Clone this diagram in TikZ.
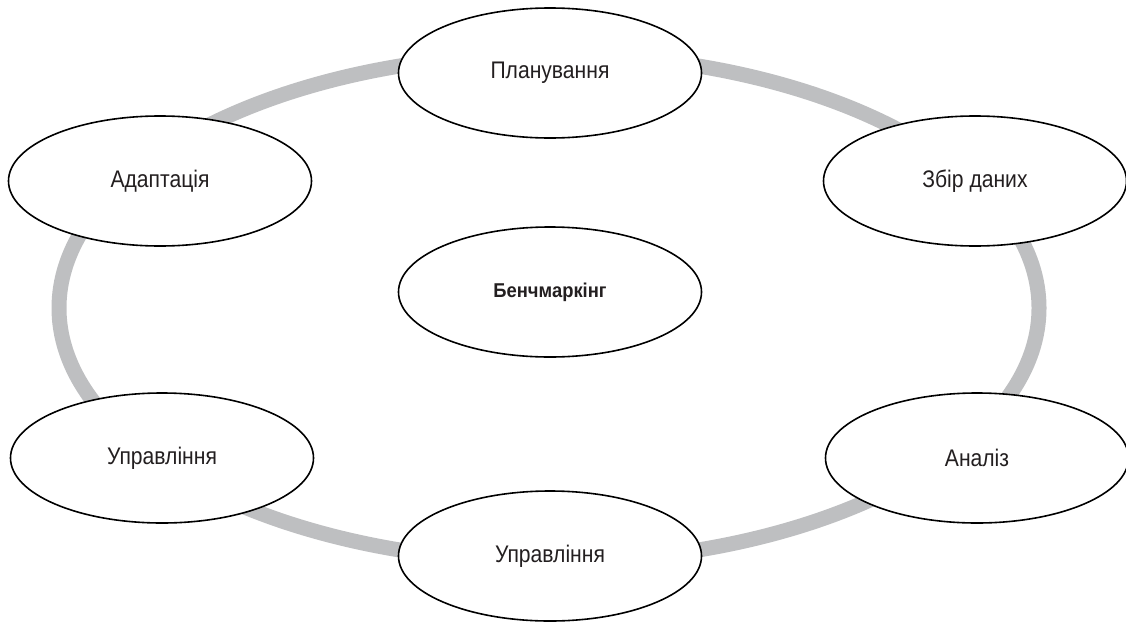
\documentclass[tikz,border=0pt]{standalone}
\usepackage{fontspec}
\setmainfont{Liberation Sans}
\newfontfamily\labelfont[FakeStretch=0.88]{Liberation Sans}
\newfontfamily\hubfont[FakeStretch=0.92]{Liberation Sans Bold}
\usetikzlibrary{shapes.geometric}
\definecolor{ringgray}{HTML}{BEBFC1}
\definecolor{inkgray}{HTML}{231F20}
\tikzset{
  stage/.style={draw=black, line width=1.6pt, fill=white, ellipse, minimum width=303pt, minimum height=130pt, inner sep=0pt, font=\labelfont\fontsize{24}{27}\selectfont, text=inkgray},
  hub/.style={stage, font=\hubfont\fontsize{20}{24}\selectfont},
  ring/.style={draw=ringgray, line width=15pt}
}
\begin{document}
\begin{tikzpicture}[x=1pt,y=-1pt]
\useasboundingbox (0,0) rectangle (1126,621);
\draw[ring] (549,308) ellipse [x radius=490, y radius=254];
\node[stage] (plan) at (550,73) {Планування};
\node[stage] (collect) at (975,181) {Збір даних};
\node[stage] (adapt) at (160,181) {Адаптація};
\node[hub] (bench) at (550,292) {Бенчмаркінг};
\node[stage] (manageL) at (162,458) {Управління};
\node[stage] (analysis) at (977,458) {Аналіз};
\node[stage] (manageB) at (550,556) {Управління};
\end{tikzpicture}
\end{document}
